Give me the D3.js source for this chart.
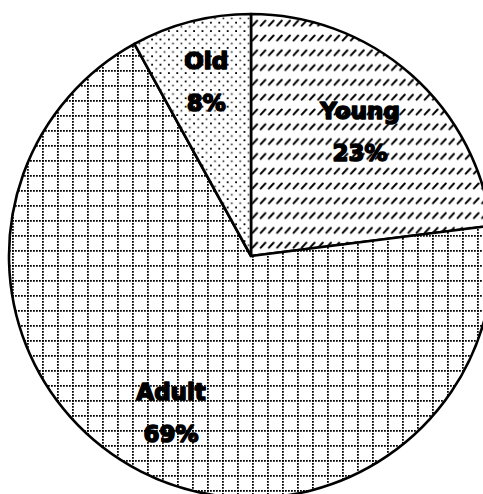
<!DOCTYPE html>
<html>
<head>
<meta charset="utf-8">
<script src="https://cdn.jsdelivr.net/npm/d3@7"></script>
<style>
  html, body { margin: 0; padding: 0; background: #fff; }
  svg { display: block; }
</style>
</head>
<body>
<div id="pie"></div>
<script>
// Chart data
var groups = ["Young", "Adult", "Old"];
var shares = [23, 69, 8];
var shareLabels = ["23%", "69%", "8%"];

// Define SVG area dimensions
var svgWidth = 483;
var svgHeight = 494;
var cx = 251, cy = 256, radius = 242;

var svg = d3.select("#pie")
  .append("svg")
  .attr("width", svgWidth)
  .attr("height", svgHeight);

// Fill patterns (one per slice)
var defs = svg.append("defs");

var hatch = defs.append("pattern")
  .attr("id", "pat-Young")
  .attr("patternUnits", "userSpaceOnUse")
  .attr("width", 8.2).attr("height", 14.8);
hatch.append("rect").attr("width", 8.2).attr("height", 14.8).attr("fill", "#fff");
hatch.append("line")
  .attr("x1", 1.5).attr("y1", 6.5).attr("x2", 6.2).attr("y2", 1.5)
  .attr("stroke", "#000").attr("stroke-width", 2).attr("stroke-linecap", "round");

var grid = defs.append("pattern")
  .attr("id", "pat-Adult")
  .attr("patternUnits", "userSpaceOnUse")
  .attr("x", 1).attr("y", 9)
  .attr("width", 15).attr("height", 15);
grid.append("rect").attr("width", 15).attr("height", 15).attr("fill", "#fff");
grid.append("line")
  .attr("x1", 0).attr("y1", 0.9).attr("x2", 15).attr("y2", 0.9)
  .attr("stroke", "#000").attr("stroke-width", 1.8).attr("stroke-dasharray", "1.8,1.2");
grid.append("line")
  .attr("x1", 0.9).attr("y1", 0).attr("x2", 0.9).attr("y2", 15)
  .attr("stroke", "#000").attr("stroke-width", 1.8).attr("stroke-dasharray", "1.8,1.2");

var dots = defs.append("pattern")
  .attr("id", "pat-Old")
  .attr("patternUnits", "userSpaceOnUse")
  .attr("width", 8.4).attr("height", 8.4);
dots.append("rect").attr("width", 8.4).attr("height", 8.4).attr("fill", "#fff");
dots.append("rect").attr("x", 1).attr("y", 1).attr("width", 1.8).attr("height", 1.8).attr("fill", "#000");
dots.append("rect").attr("x", 5.2).attr("y", 5.2).attr("width", 1.6).attr("height", 1.6).attr("fill", "#222");

var chartGroup = svg.append("g")
  .attr("transform", `translate(${cx}, ${cy})`);

var data = groups.map(function(g, i) {
  return { name: g, value: shares[i], label: shareLabels[i] };
});

var pie = d3.pie()
  .sort(null)
  .value(d => d.value);

var arc = d3.arc()
  .innerRadius(0)
  .outerRadius(radius);

var arcs = pie(data);

chartGroup.selectAll("path.slice")
  .data(arcs)
  .enter()
  .append("path")
  .attr("class", "slice")
  .attr("d", arc)
  .attr("fill", d => `url(#pat-${d.data.name})`)
  .attr("stroke", "#000")
  .attr("stroke-width", 2.6)
  .attr("stroke-linejoin", "round");

// Labels sit along the middle of each slice
var labelRadius = { Young: 165, Adult: 176, Old: 180 };

var labels = chartGroup.selectAll("g.lbl")
  .data(arcs)
  .enter()
  .append("g")
  .attr("class", "lbl")
  .attr("transform", function(d) {
    var a = (d.startAngle + d.endAngle) / 2;
    var r = labelRadius[d.data.name];
    return `translate(${r * Math.sin(a)}, ${-r * Math.cos(a)})`;
  });

labels.append("text")
  .attr("y", -13)
  .text(d => d.data.name);

labels.append("text")
  .attr("y", 29)
  .text(d => d.data.label);

labels.selectAll("text")
  .attr("text-anchor", "middle")
  .attr("font-family", "'DejaVu Sans', sans-serif")
  .attr("font-weight", "bold")
  .attr("font-size", 23)
  .attr("fill", "#000")
  .attr("stroke", "#000")
  .attr("stroke-width", 1.6)
  .attr("stroke-linejoin", "round");
</script>
</body>
</html>
